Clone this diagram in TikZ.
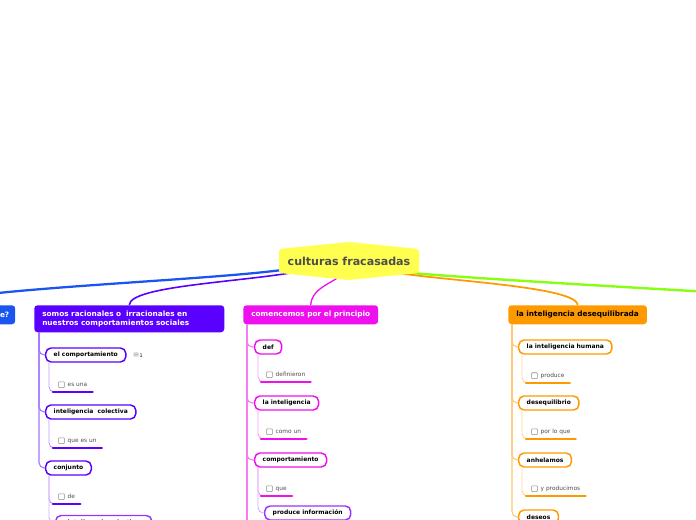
\documentclass[tikz,border=0pt]{standalone}
\usepackage{fontspec}
\setmainfont{DejaVu Sans}
\usetikzlibrary{positioning, backgrounds}

\definecolor{rootc}{HTML}{FFFF4F}
\definecolor{roottxt}{HTML}{4D4D4D}
\definecolor{bluec}{HTML}{1A55F0}
\definecolor{purpc}{HTML}{5A00FF}
\definecolor{violc}{HTML}{9933FF}
\definecolor{magc}{HTML}{EE11EE}
\definecolor{orgc}{HTML}{FF9900}
\definecolor{grnc}{HTML}{88FF11}

\newcommand{\cbx}{\tikz[baseline=0.7pt]\draw[black!45, line width=0.45pt, rounded corners=0.6pt] (0,0) rectangle (4.4pt,4.4pt);\hspace{2.2pt}}

\begin{document}
\begin{tikzpicture}[x=0.75pt, y=-0.75pt,
    roottext/.style={font=\fontsize{8.3}{10}\selectfont\bfseries, text=roottxt},
    topic/.style={fill=#1, rounded corners=2.5pt, anchor=north west, text=white,
        font=\fontsize{5.5}{6.9}\selectfont\bfseries, inner xsep=6pt, minimum height=14.25pt},
    sub/.style={draw=#1, line width=1.1pt, fill=white, rounded corners=4pt, anchor=west,
        font=\fontsize{4.5}{5}\selectfont\bfseries, inner xsep=6pt, inner ysep=0pt, minimum height=10.5pt},
    leaf/.style={anchor=south west, font=\fontsize{4.4}{5}\selectfont, text=black!70,
        inner xsep=3.75pt, inner ysep=0pt, minimum height=10.5pt},
    uline/.style={draw=#1, line width=2pt, line cap=round},
    trunk/.style={draw=#1!55, line width=0.8pt, rounded corners=4pt},
    twig/.style={draw=#1!40, line width=0.7pt, rounded corners=4pt},
    mainline/.style={draw=#1, line width=1.5pt}]

    \useasboundingbox (0,0) rectangle (696,520);
    \clip (0,0) rectangle (696,520);

    % Centre
    \node[roottext] (root) at (349,261) {culturas fracasadas};

    % Topics
    \node[topic=bluec, anchor=north east, text width=120pt, align=right, inner xsep=4.5pt] (blt) at (15.5,305) {e?};
    \node[topic=purpc, text width=130.5pt, align=left, minimum height=20.25pt] (pmt) at (34,305)
        {somos racionales o\ \ irracionales en\\nuestros comportamientos sociales};
    \node[topic=magc] (mgt) at (243,305) {comencemos por el principio};
    \node[topic=orgc, text=black] (ogt) at (508,305) {la inteligencia desequilibrada};
    \coordinate (grt) at (800,297);

    % Purple column
    \node[sub=purpc] (p1) at (45,355) {el comportamiento};
    \node[inner sep=0pt, right=4.5pt of p1, font=\fontsize{6}{6}\selectfont] (n1)
        {{\color{black!40}≡}{\fontsize{3.6}{4}\selectfont 1}};
    \node[leaf] (pl1) at (53,392) {\cbx es una};
    \node[sub=purpc] (p2) at (45,412) {inteligencia\ \ colectiva};
    \node[leaf] (pl2) at (53,448) {\cbx que es un};
    \node[sub=purpc] (p3) at (45,468) {conjunto};
    \node[leaf] (pl3) at (53,504) {\cbx de};
    \node[sub=violc, minimum width=72pt] (p4) at (55,522.5) {inteligencia colectiva};

    % Magenta column
    \node[sub=magc] (m1) at (254,347) {def};
    \node[leaf] (ml1) at (261,382) {\cbx definieron};
    \node[sub=magc] (m2) at (254,403) {la inteligencia};
    \node[leaf] (ml2) at (261,439) {\cbx como un};
    \node[sub=magc] (m3) at (254,460) {comportamiento};
    \node[leaf] (ml3) at (261,496) {\cbx que};
    \node[sub=violc] (m4) at (264,513) {produce información};
    \coordinate (mgend) at (247,530);

    % Orange column
    \node[sub=orgc] (o1) at (518,347) {la inteligencia humana};
    \node[leaf] (ol1) at (526,383) {\cbx produce};
    \node[sub=orgc] (o2) at (518,403) {desequilibrio};
    \node[leaf] (ol2) at (526,439) {\cbx por lo que};
    \node[sub=orgc] (o3) at (518,460) {anhelamos};
    \node[leaf] (ol3) at (526,496) {\cbx y producimos};
    \node[sub=orgc] (o4) at (518,517) {deseos};

    \begin{scope}[on background layer]
        % Branches from the centre
        \draw[mainline=grnc, line width=1.8pt] (root) .. controls (400,274) and (600,286) .. (grt);
        \draw[mainline=orgc, line width=1.3pt] (root) .. controls (420,280) and (577,285) .. (ogt.north);
        \draw[mainline=bluec, line width=1.7pt] (root) .. controls (200,281) and (-40,289) .. (blt.north);
        \draw[mainline=purpc, line width=1.2pt] (root) .. controls (250,282) and (130,285) .. (pmt.north);
        \draw[mainline=magc, line width=1pt] (root) .. controls (340,282) and (312,285) .. (mgt.north);
        \fill[rootc, rounded corners=2pt] (279,249) -- (349,242) -- (419,249) -- (419,273)
            -- (349,280) -- (279,273) -- cycle;

        % Purple column
        \foreach \c in {p1,p2,p3}
            \draw[trunk=purpc] ([xshift=3.75pt]pmt.south west) |- (\c.west);
        \draw[twig=purpc] ([xshift=3pt]p1.south west) |- (pl1.south west);
        \draw[twig=purpc] ([xshift=3pt]p2.south west) |- (pl2.south west);
        \draw[twig=purpc] ([xshift=3pt]p3.south west) |- (pl3.south west);
        \draw[twig=violc] ([xshift=3pt]p3.south west) |- (p4.west);
        \foreach \l in {pl1,pl2,pl3}
            \draw[uline=purpc] (\l.south west) -- (\l.south east);

        % Magenta column
        \draw[trunk=magc] ([xshift=3pt]mgt.south west) -- (mgend);
        \foreach \c in {m1,m2,m3}
            \draw[trunk=magc] ([xshift=3pt]mgt.south west) |- (\c.west);
        \draw[twig=magc] ([xshift=3pt]m1.south west) |- (ml1.south west);
        \draw[twig=magc] ([xshift=3pt]m2.south west) |- (ml2.south west);
        \draw[twig=magc] ([xshift=3pt]m3.south west) |- (ml3.south west);
        \draw[twig=violc] ([xshift=3pt]m3.south west) |- (m4.west);
        \foreach \l in {ml1,ml2,ml3}
            \draw[uline=magc] (\l.south west) -- (\l.south east);

        % Orange column
        \foreach \c in {o1,o2,o3,o4}
            \draw[trunk=orgc] ([xshift=3pt]ogt.south west) |- (\c.west);
        \draw[twig=orgc] ([xshift=3pt]o1.south west) |- (ol1.south west);
        \draw[twig=orgc] ([xshift=3pt]o2.south west) |- (ol2.south west);
        \draw[twig=orgc] ([xshift=3pt]o3.south west) |- (ol3.south west);
        \foreach \l in {ol1,ol2,ol3}
            \draw[uline=orgc] (\l.south west) -- (\l.south east);
    \end{scope}
\end{tikzpicture}
\end{document}
